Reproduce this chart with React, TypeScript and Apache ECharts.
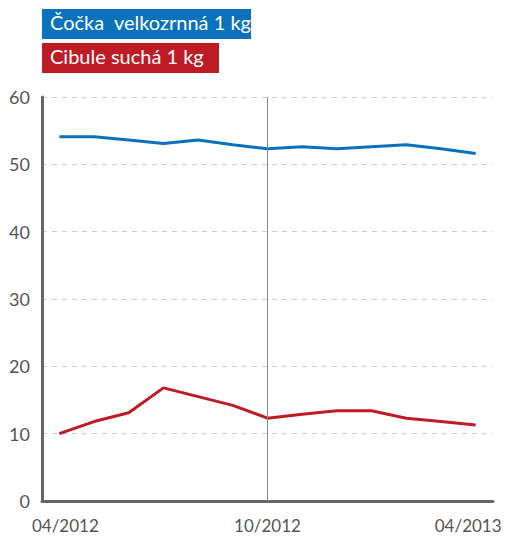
import React, { useEffect, useRef } from "react";
import * as echarts from "echarts";

const categories = ["04/2012","05/2012","06/2012","07/2012","08/2012","09/2012","10/2012","11/2012","12/2012","01/2013","02/2013","03/2013","04/2013"];
const lentils = [54.1, 54.1, 53.6, 53.1, 53.6, 52.9, 52.3, 52.6, 52.3, 52.6, 52.9, 52.3, 51.6];
const onions = [10.0, 11.8, 13.1, 16.8, 15.5, 14.2, 12.3, 12.9, 13.4, 13.4, 12.3, 11.8, 11.3];
const seriesNames = ["Čočka  velkozrnná 1 kg", "Cibule suchá 1 kg"];
const yTicks = [0, 10, 20, 30, 40, 50, 60];

const BLUE = "#0a71bd";
const RED = "#be1b24";
const FONT = "Lato, 'Open Sans', sans-serif";

export default function App() {
  const ref = useRef<HTMLDivElement>(null);
  useEffect(() => {
    const chart = echarts.init(ref.current!, undefined, { renderer: "svg" });
    chart.setOption({
      animation: false,
      textStyle: { fontFamily: FONT },
      grid: { left: 42, top: 97, right: 12, bottom: 36 },
      graphic: [
        { type: "rect", left: 42, top: 9, shape: { width: 209, height: 30 }, style: { fill: BLUE } },
        { type: "text", left: 50, top: 12, style: { text: seriesNames[0], fill: "#fff", font: `20px ${FONT}` } },
        { type: "rect", left: 42, top: 43, shape: { width: 177, height: 30 }, style: { fill: RED } },
        { type: "text", left: 50, top: 46, style: { text: seriesNames[1], fill: "#fff", font: `20px ${FONT}` } },
      ],
      xAxis: {
        type: "category",
        data: categories,
        boundaryGap: true,
        axisLine: { lineStyle: { color: "#666", width: 3 } },
        axisTick: { show: false },
        axisLabel: {
          interval: (i: number) => i === 0 || i === 6 || i === 12,
          color: "#555",
          fontSize: 17,
          margin: 16,
          formatter: (v: string, i: number) =>
            i === 0 ? `{f|${v}}` : i === 12 ? `{l|${v}}` : `{m|${v}}`,
          rich: {
            f: { padding: [0, 0, 0, 12], fontSize: 17, color: "#555", fontFamily: FONT },
            l: { padding: [0, 15, 0, 0], fontSize: 17, color: "#555", fontFamily: FONT },
            m: { fontSize: 17, color: "#555", fontFamily: FONT },
          },
        },
        splitLine: { show: false },
      },
      yAxis: {
        type: "value",
        min: yTicks[0],
        max: yTicks[yTicks.length - 1],
        interval: 10,
        axisLine: { show: true, lineStyle: { color: "#666", width: 3 } },
        axisTick: { show: false },
        axisLabel: { color: "#555", fontSize: 18, margin: 12 },
        splitLine: { lineStyle: { color: "#ccc", type: [5, 5], width: 1 } },
      },
      series: [
        {
          name: seriesNames[0],
          type: "line",
          data: lentils,
          symbol: "none",
          lineStyle: { color: BLUE, width: 3 },
          markLine: {
            silent: true,
            symbol: "none",
            label: { show: false },
            lineStyle: { color: "#888", width: 1, type: "solid" },
            data: [{ xAxis: categories[6] }],
          },
        },
        {
          name: seriesNames[1],
          type: "line",
          data: onions,
          symbol: "none",
          lineStyle: { color: RED, width: 3 },
        },
      ],
    });
    return () => chart.dispose();
  }, []);
  return <div ref={ref} style={{ width: 505, height: 537, position: "absolute", left: 0, top: 0 }} />;
}
